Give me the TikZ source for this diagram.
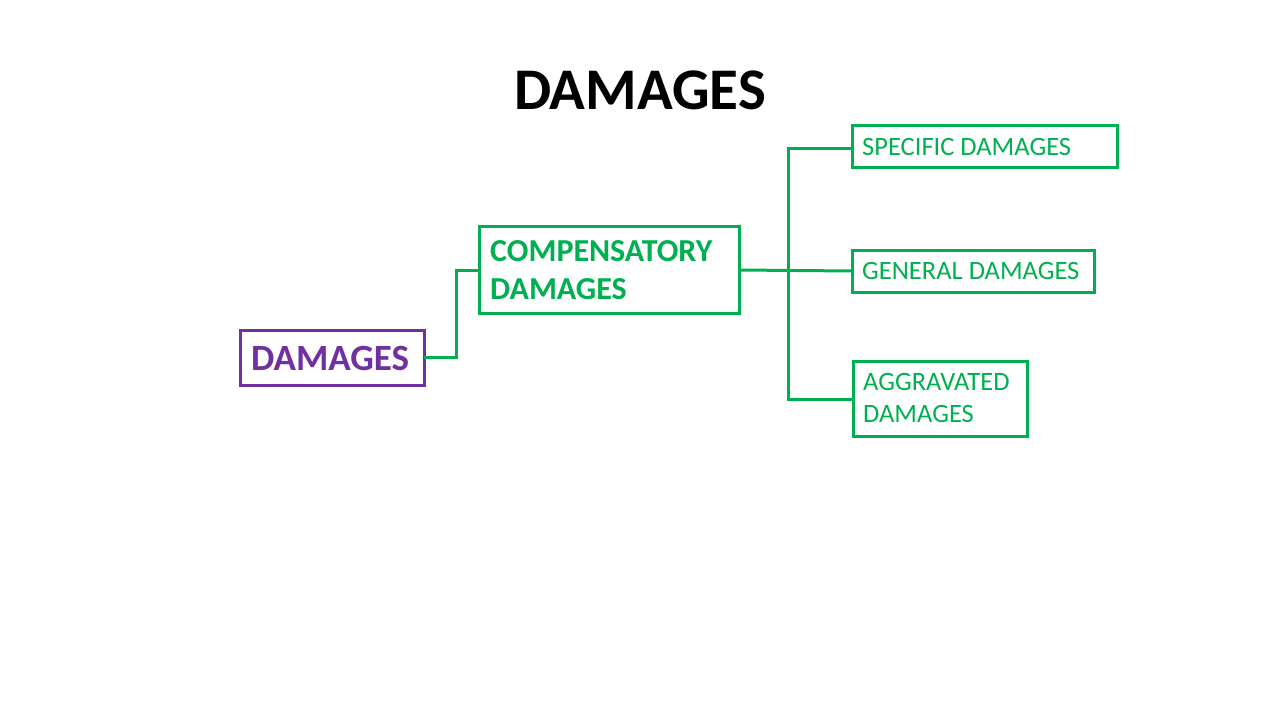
\documentclass[tikz,border=0pt]{standalone}
\usepackage{fontspec}
\setmainfont{Carlito}
\definecolor{grn}{RGB}{0,176,80}
\definecolor{prp}{RGB}{112,48,160}
\begin{document}
\begin{tikzpicture}[x=1pt,y=-1pt,
 box/.style={draw=grn,line width=3pt},
 con/.style={draw=grn,line width=3pt}]
\useasboundingbox (0,0) rectangle (1280,720);
\node[font=\bfseries\fontsize{59}{66}\selectfont] (title) at (640,90) {DAMAGES};
\draw[draw=prp,line width=3pt] (240,330) rectangle (424,385);
\node[text=prp,font=\bfseries\fontsize{37}{40}\selectfont,anchor=west,inner sep=0pt] (dam) at (251,358) {DAMAGES};
\coordinate (damR) at (424,357);
\draw[box] (479,226) rectangle (739,313);
\node[text=grn,font=\bfseries\fontsize{32}{38}\selectfont,align=left,anchor=west,inner sep=0pt] (comp) at (490,270) {COMPENSATORY\\DAMAGES};
\coordinate (compL) at (479,270);
\coordinate (compR) at (739,270);
\draw[box] (852,125) rectangle (1117,167);
\node[text=grn,font=\fontsize{26.5}{30}\selectfont,anchor=west,inner sep=0pt] (spec) at (862,147) {SPECIFIC DAMAGES};
\draw[box] (852,250) rectangle (1094,292);
\node[text=grn,font=\fontsize{26.5}{30}\selectfont,anchor=west,inner sep=0pt] (gen) at (862,271) {GENERAL DAMAGES};
\draw[box] (853,361) rectangle (1027,436);
\node[text=grn,font=\fontsize{26.5}{32}\selectfont,align=left,anchor=west,inner sep=0pt] (agg) at (863,398) {AGGRAVATED\\DAMAGES};
\coordinate (specL) at (852,148);
\coordinate (genL) at (852,271);
\coordinate (aggL) at (853,399);
\draw[con] (damR) -- (456,357) -- (456,270) -- (compL);
\draw[con] (compR) -- (genL);
\draw[con] (specL) -- (788,148) -- (788,399) -- (aggL);
\end{tikzpicture}
\end{document}
